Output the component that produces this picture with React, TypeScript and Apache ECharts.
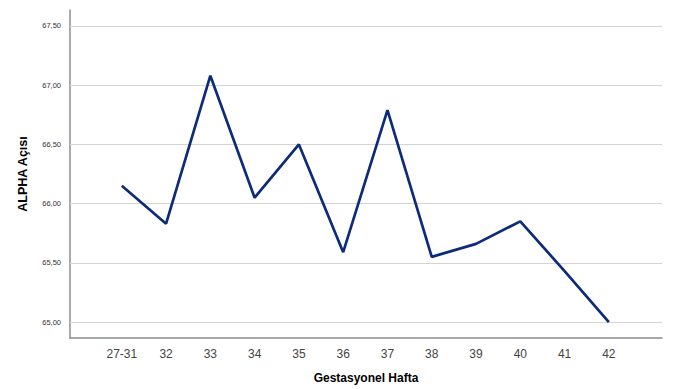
import React, { useEffect, useRef } from "react";
import * as echarts from "echarts";

const categories = ["27-31", "32", "33", "34", "35", "36", "37", "38", "39", "40", "41", "42"];
const alphaValues = [66.15, 65.83, 67.08, 66.05, 66.5, 65.59, 66.79, 65.55, 65.66, 65.85, 65.43, 65.0];
const yTicks = [65.0, 65.5, 66.0, 66.5, 67.0, 67.5];
const xTitle = "Gestasyonel Hafta";
const yTitle = "ALPHA Açısı";

export default function App() {
  const ref = useRef<HTMLDivElement>(null);
  useEffect(() => {
    if (!ref.current) return;
    const chart = echarts.init(ref.current, undefined, { renderer: "svg" });
    const font = "Liberation Sans, Arial, sans-serif";
    chart.setOption({
      animation: false,
      backgroundColor: "#ffffff",
      grid: { left: 70, right: 29, top: 10, bottom: 50, containLabel: false },
      xAxis: {
        type: "value",
        min: -1.17,
        max: 12.2,
        name: xTitle,
        nameLocation: "middle",
        nameGap: 34,
        nameTextStyle: { fontFamily: font, fontSize: 12, fontWeight: "bold", color: "#000" },
        axisLine: { show: true, onZero: false, lineStyle: { color: "#8c8c8c", width: 1.5 } },
        axisTick: { show: false },
        splitLine: { show: false },
        axisLabel: {
          customValues: categories.map((_, i) => i),
          formatter: (v: number) => categories[Math.round(v)] ?? "",
          fontFamily: font,
          fontSize: 12,
          color: "#444",
          margin: 10,
        },
      },
      yAxis: {
        type: "value",
        min: 64.865,
        max: 67.635,
        name: yTitle,
        nameLocation: "middle",
        nameGap: 41,
        nameRotate: 90,
        nameTextStyle: { fontFamily: font, fontSize: 12.5, fontWeight: "bold", color: "#000" },
        axisLine: { show: true, onZero: false, lineStyle: { color: "#8c8c8c", width: 1.5 } },
        axisTick: { show: false },
        splitLine: { show: false },
        axisLabel: {
          customValues: yTicks,
          formatter: (v: number) => v.toFixed(2).replace(".", ","),
          fontFamily: font,
          fontSize: 7.5,
          color: "#333",
          margin: 9,
        },
      },
      series: [
        {
          type: "line",
          data: [],
          silent: true,
          markLine: {
            silent: true,
            symbol: "none",
            label: { show: false },
            lineStyle: { color: "#d4d4d4", width: 1.2, type: "solid" },
            data: yTicks.map((t) => ({ yAxis: t })),
          },
        },
        {
          type: "line",
          data: alphaValues.map((v, i) => [i, v]),
          symbol: "none",
          lineStyle: { color: "#0c2b78", width: 2.7 },
          z: 5,
        },
      ],
    });
    return () => chart.dispose();
  }, []);
  return (
    <div
      ref={ref}
      style={{ position: "fixed", left: 0, top: 0, width: 691, height: 389 }}
    />
  );
}
